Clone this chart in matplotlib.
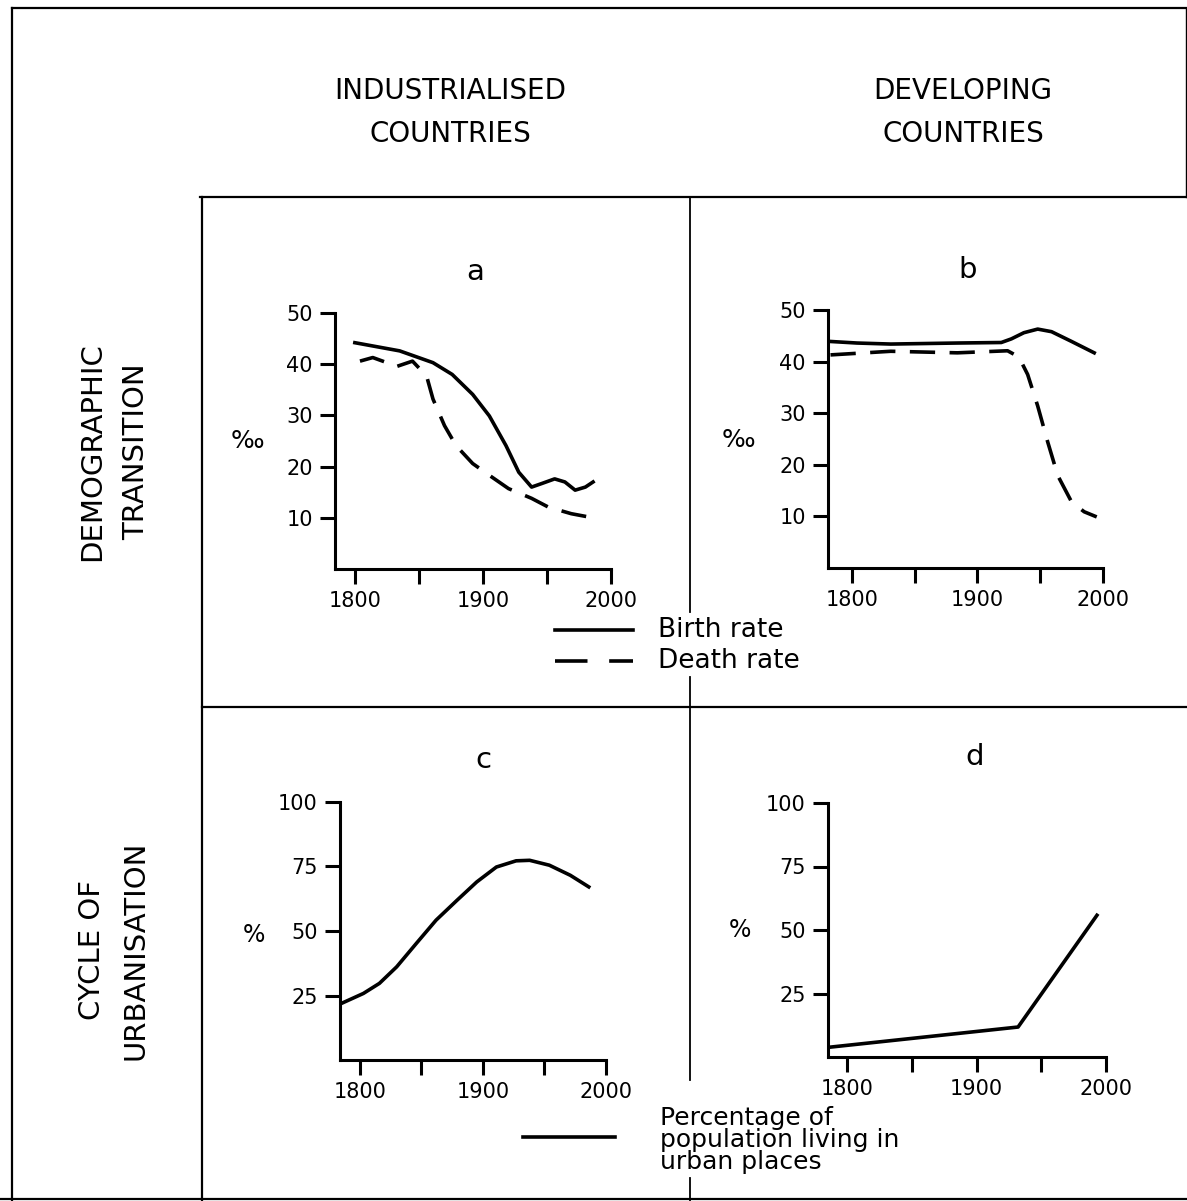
import numpy as np
import matplotlib.pyplot as plt
from matplotlib.lines import Line2D

W, H = 1187, 1201

# panel a: industrialised countries, demographic transition (per mille)
a_birth_year = [1800, 1835, 1861, 1876, 1892, 1905, 1918, 1928, 1938, 1946, 1956, 1964, 1972, 1980, 1986]
a_birth = [44.2, 42.6, 40.3, 38.0, 34.1, 29.9, 24.1, 18.9, 16.0, 16.7, 17.6, 17.0, 15.4, 16.0, 17.0]
a_death_year = [1804, 1814, 1825, 1832, 1845, 1856, 1861, 1870, 1879, 1892, 1905, 1920, 1938, 1951, 1969, 1986]
a_death = [40.6, 41.3, 40.3, 39.5, 40.6, 37.7, 33.2, 28.0, 24.1, 20.6, 18.3, 15.7, 13.8, 12.1, 10.8, 10.0]

# panel b: developing countries, demographic transition (per mille)
b_birth_year = [1783, 1804, 1831, 1884, 1919, 1927, 1937, 1948, 1959, 1975, 1993]
b_birth = [43.9, 43.6, 43.4, 43.6, 43.7, 44.4, 45.6, 46.3, 45.8, 43.9, 41.7]
b_death_year = [1783, 1831, 1884, 1924, 1933, 1940, 1948, 1956, 1964, 1975, 1985, 1995]
b_death = [41.3, 42.0, 41.7, 42.1, 40.9, 37.5, 31.4, 24.4, 17.9, 12.8, 10.9, 9.9]

# panel c: industrialised countries, urban population (%)
c_year = [1785, 1803, 1816, 1830, 1846, 1862, 1879, 1895, 1911, 1927, 1938, 1954, 1971, 1986]
c_urban = [21.9, 25.8, 29.7, 36.1, 45.2, 54.2, 61.9, 69.0, 74.8, 77.2, 77.4, 75.5, 71.6, 67.1]

# panel d: developing countries, urban population (%)
d_year = [1787, 1932, 1993]
d_urban = [3.9, 11.8, 55.8]

x_ticks = [1800, 1850, 1900, 1950, 2000]
x_labels = ['1800', '', '1900', '', '2000']
rate_ticks = [10, 20, 30, 40, 50]
urban_ticks = [25, 50, 75, 100]

FONT = 'DejaVu Sans'
DASH = (0, (7, 4))

fig = plt.figure(figsize=(W / 100, H / 100), dpi=100)


def fx(px):
    return px / W


def fy(py):
    return 1 - py / H


def box(left, top, right, bottom):
    return [fx(left), fy(bottom), fx(right) - fx(left), fy(top) - fy(bottom)]


def frame_line(xs, ys, lw=1.6):
    fig.add_artist(Line2D([fx(x) for x in xs], [fy(y) for y in ys],
                          color='black', lw=lw, transform=fig.transFigure))


def style_axes(ax, xlim, ylim, yticks):
    ax.set_xlim(*xlim)
    ax.set_ylim(*ylim)
    ax.spines['top'].set_visible(False)
    ax.spines['right'].set_visible(False)
    for s in ('left', 'bottom'):
        ax.spines[s].set_linewidth(2.2)
    ax.set_xticks(x_ticks)
    ax.set_xticklabels(x_labels)
    ax.set_yticks(yticks)
    ax.tick_params(direction='out', length=11, width=2.2, labelsize=15, pad=5)
    for lab in ax.get_xticklabels() + ax.get_yticklabels():
        lab.set_family(FONT)
    ax.patch.set_alpha(0)


# outer frame and grid
frame_line([12, 1187], [8, 8])
frame_line([12, 12], [8, 1201])
frame_line([0, 1187], [1199, 1199])
frame_line([1186, 1186], [8, 197], lw=1.0)
frame_line([200, 1187], [197, 197])
frame_line([202, 202], [197, 1201])
frame_line([202, 1187], [707, 707])
frame_line([690, 690], [197, 612], lw=1.3)
frame_line([690, 690], [677, 1080], lw=1.3)
frame_line([690, 690], [1178, 1201], lw=1.3)

# column and row headers
for cx, lines in [(450, ['INDUSTRIALISED', 'COUNTRIES']), (963, ['DEVELOPING', 'COUNTRIES'])]:
    fig.text(fx(cx), fy(91), lines[0], ha='center', va='center', fontsize=20, family=FONT)
    fig.text(fx(cx), fy(134), lines[1], ha='center', va='center', fontsize=20, family=FONT)

fig.text(fx(92), fy(452), 'DEMOGRAPHIC', rotation=90, ha='center', va='center', fontsize=21, family=FONT)
fig.text(fx(136), fy(452), 'TRANSITION', rotation=90, ha='center', va='center', fontsize=21, family=FONT)
fig.text(fx(92), fy(950), 'CYCLE OF', rotation=90, ha='center', va='center', fontsize=21, family=FONT)
fig.text(fx(136), fy(950), 'URBANISATION', rotation=90, ha='center', va='center', fontsize=21, family=FONT)

# panel a
ax = fig.add_axes(box(335, 313, 611, 569))
ax.plot(a_birth_year, a_birth, color='black', lw=2.6)
ax.plot(a_death_year, a_death, color='black', lw=2.6, linestyle=DASH)
style_axes(ax, (1784.5, 2000), (0, 50), rate_ticks)
fig.text(fx(475), fy(272), 'a', ha='center', va='center', fontsize=21, family=FONT)
fig.text(fx(247), fy(441), '‰', ha='center', va='center', fontsize=18, family=FONT)

# panel b
ax = fig.add_axes(box(828, 310, 1103, 568))
ax.plot(b_birth_year, b_birth, color='black', lw=2.6)
ax.plot(b_death_year, b_death, color='black', lw=2.6, linestyle=DASH)
style_axes(ax, (1781, 2000), (0, 50), rate_ticks)
fig.text(fx(968), fy(270), 'b', ha='center', va='center', fontsize=21, family=FONT)
fig.text(fx(738), fy(440), '‰', ha='center', va='center', fontsize=18, family=FONT)

# panel c
ax = fig.add_axes(box(340, 802, 606, 1060))
ax.plot(c_year, c_urban, color='black', lw=2.6)
style_axes(ax, (1784, 2000), (0, 100), urban_ticks)
fig.text(fx(483), fy(760), 'c', ha='center', va='center', fontsize=21, family=FONT)
fig.text(fx(254), fy(935), '%', ha='center', va='center', fontsize=17, family=FONT)

# panel d
ax = fig.add_axes(box(828, 803, 1106, 1057))
ax.plot(d_year, d_urban, color='black', lw=2.6)
style_axes(ax, (1785, 2000), (0, 100), urban_ticks)
fig.text(fx(975), fy(757), 'd', ha='center', va='center', fontsize=21, family=FONT)
fig.text(fx(740), fy(930), '%', ha='center', va='center', fontsize=17, family=FONT)

# legends
frame_line([555, 633], [630, 630], lw=2.6)
fig.add_artist(Line2D([fx(555), fx(633)], [fy(661), fy(661)], color='black', lw=2.6,
                      linestyle=(0, (9, 6)), transform=fig.transFigure))
fig.text(fx(658), fy(630), 'Birth rate', ha='left', va='center', fontsize=19, family=FONT)
fig.text(fx(658), fy(661), 'Death rate', ha='left', va='center', fontsize=19, family=FONT)

frame_line([523, 615], [1137, 1137], lw=2.6)
fig.text(fx(660), fy(1140), 'Percentage of\npopulation living in\nurban places', ha='left', va='center',
         fontsize=18, family=FONT, linespacing=0.9)

fig.savefig('out.png', dpi=100, facecolor='white')
